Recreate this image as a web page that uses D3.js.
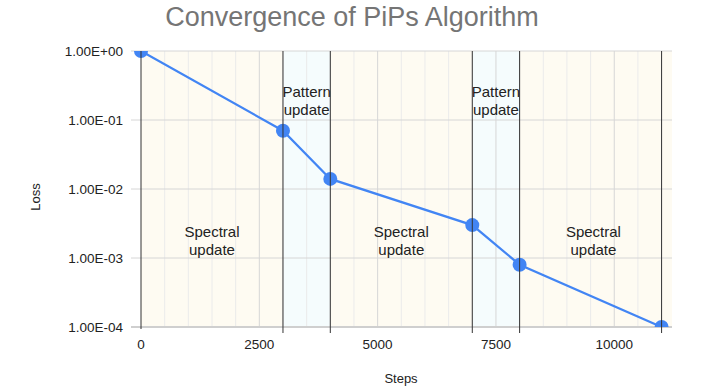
<!DOCTYPE html>
<html>
<head>
<meta charset="utf-8">
<script src="https://cdn.jsdelivr.net/npm/d3@7"></script>
<style>
  body { margin: 0; background: #fff; }
  text { font-family: "Liberation Sans", Arial, sans-serif; }
</style>
</head>
<body>
<div id="chart"></div>
<script>
// --------------- Data --------------- //

const steps = [0, 3000, 4000, 7000, 8000, 11000];
const loss = [1, 0.07, 0.014, 0.003, 0.0008, 0.0001];

// phases of the algorithm (background bands)
const phaseStart = [0, 3000, 4000, 7000, 8000];
const phaseEnd = [3000, 4000, 7000, 8000, 11220];
const phaseKind = ["spectral", "pattern", "spectral", "pattern", "spectral"];
const phaseLabel = ["Spectral update", "Pattern update", "Spectral update", "Pattern update", "Spectral update"];
const phaseLines = [0, 3000, 4000, 7000, 8000, 11000];

const xTicks = [0, 2500, 5000, 7500, 10000];
const yTicks = [1, 0.1, 0.01, 0.001, 0.0001];

// --------------- Basic Setup --------------- //

const width = 724,
    height = 388;
const margin = {top: 51, right: 52, bottom: 61, left: 141};

const svg = d3.select("#chart")
    .append("svg")
    .attr("width", width)
    .attr("height", height);

const x = d3.scaleLinear()
    .domain([0, 11220])
    .range([margin.left, width - margin.right]);

const y = d3.scaleLog()
    .domain([0.0001, 1])
    .range([height - margin.bottom, margin.top]);

const bandColor = {spectral: "#fefbf2", pattern: "#f5fcfd"};

// --------------- Build the Chart --------------- //

// background bands
svg.append("g")
    .selectAll("rect")
    .data(phaseStart)
    .join("rect")
    .attr("x", (d, i) => x(d))
    .attr("width", (d, i) => x(phaseEnd[i]) - x(d))
    .attr("y", y(1))
    .attr("height", y(0.0001) - y(1))
    .attr("fill", (d, i) => bandColor[phaseKind[i]]);

// minor vertical grid every 500
svg.append("g")
    .selectAll("line")
    .data(d3.range(500, 11220, 500).filter(d => d % 2500 !== 0))
    .join("line")
    .attr("x1", d => x(d)).attr("x2", d => x(d))
    .attr("y1", y(1)).attr("y2", y(0.0001))
    .attr("stroke", "#ebebeb");

// major vertical grid
svg.append("g")
    .selectAll("line")
    .data(xTicks.slice(1))
    .join("line")
    .attr("x1", d => x(d)).attr("x2", d => x(d))
    .attr("y1", y(1)).attr("y2", y(0.0001))
    .attr("stroke", "#d6d6d6");

// horizontal grid
svg.append("g")
    .selectAll("line")
    .data(yTicks)
    .join("line")
    .attr("x1", margin.left - 10).attr("x2", width - margin.right)
    .attr("y1", d => y(d)).attr("y2", d => y(d))
    .attr("stroke", d => d === 0.0001 ? "#cfcfcf" : "#d6d6d6")
    .attr("stroke-width", d => d === 0.0001 ? 2 : 1);

// series, clipped to the plot area
svg.append("clipPath")
    .attr("id", "plot-clip")
    .append("rect")
    .attr("x", margin.left - 12)
    .attr("y", y(1))
    .attr("width", width - margin.right - margin.left + 12)
    .attr("height", y(0.0001) - y(1));

const series = svg.append("g").attr("clip-path", "url(#plot-clip)");

const line = d3.line()
    .x((d, i) => x(steps[i]))
    .y(d => y(d));

series.append("path")
    .datum(loss)
    .attr("d", line)
    .attr("fill", "none")
    .attr("stroke", "#4285f4")
    .attr("stroke-width", 2.2);

series.selectAll("circle")
    .data(loss)
    .join("circle")
    .attr("cx", (d, i) => x(steps[i]))
    .attr("cy", d => y(d))
    .attr("r", 7)
    .attr("fill", "#4285f4");

// phase boundary lines
svg.append("g")
    .selectAll("line")
    .data(phaseLines)
    .join("line")
    .attr("x1", d => x(d)).attr("x2", d => x(d))
    .attr("y1", y(1)).attr("y2", d => d === 0 ? y(0.0001) + 2 : y(0.0001) + 6)
    .attr("stroke", "#333")
    .attr("stroke-width", 1);

// phase labels
const labels = svg.append("g")
    .attr("font-size", 15)
    .attr("fill", "#222")
    .attr("text-anchor", "middle");

labels.selectAll("text")
    .data(phaseLabel)
    .join("text")
    .attr("x", (d, i) => x(phaseKind[i] === "pattern" ? (phaseStart[i] + phaseEnd[i]) / 2 : (phaseStart[i] + Math.min(phaseEnd[i], 11000)) / 2 + (i === 4 ? 60 : 0)))
    .attr("y", (d, i) => phaseKind[i] === "pattern" ? 97 : 237)
    .selectAll("tspan")
    .data(d => d.split(" "))
    .join("tspan")
    .attr("x", function () { return this.parentNode.getAttribute("x"); })
    .attr("dy", (d, i) => i === 0 ? 0 : 18)
    .text(d => d);

// y tick labels
const fmtExp = d => {
    const e = Math.round(Math.log10(d));
    return "1.00E" + (e < 0 ? "-" : "+") + String(Math.abs(e)).padStart(2, "0");
};

svg.append("g")
    .selectAll("text")
    .data(yTicks)
    .join("text")
    .attr("x", margin.left - 18)
    .attr("y", d => y(d) + 5)
    .attr("text-anchor", "end")
    .attr("font-size", 13.5)
    .attr("fill", "#222")
    .text(fmtExp);

// x tick labels
svg.append("g")
    .selectAll("text")
    .data(xTicks)
    .join("text")
    .attr("x", d => x(d))
    .attr("y", 349)
    .attr("text-anchor", "middle")
    .attr("font-size", 13.5)
    .attr("fill", "#222")
    .text(d => d);

// title and axis titles
svg.append("text")
    .attr("x", 352)
    .attr("y", 26)
    .attr("text-anchor", "middle")
    .attr("font-size", 27)
    .attr("fill", "#757575")
    .text("Convergence of PiPs Algorithm");

svg.append("text")
    .attr("transform", "translate(40,197) rotate(-90)")
    .attr("text-anchor", "middle")
    .attr("font-size", 13)
    .attr("fill", "#222")
    .text("Loss");

svg.append("text")
    .attr("x", 401)
    .attr("y", 383)
    .attr("text-anchor", "middle")
    .attr("font-size", 13)
    .attr("fill", "#222")
    .text("Steps");
</script>
</body>
</html>
